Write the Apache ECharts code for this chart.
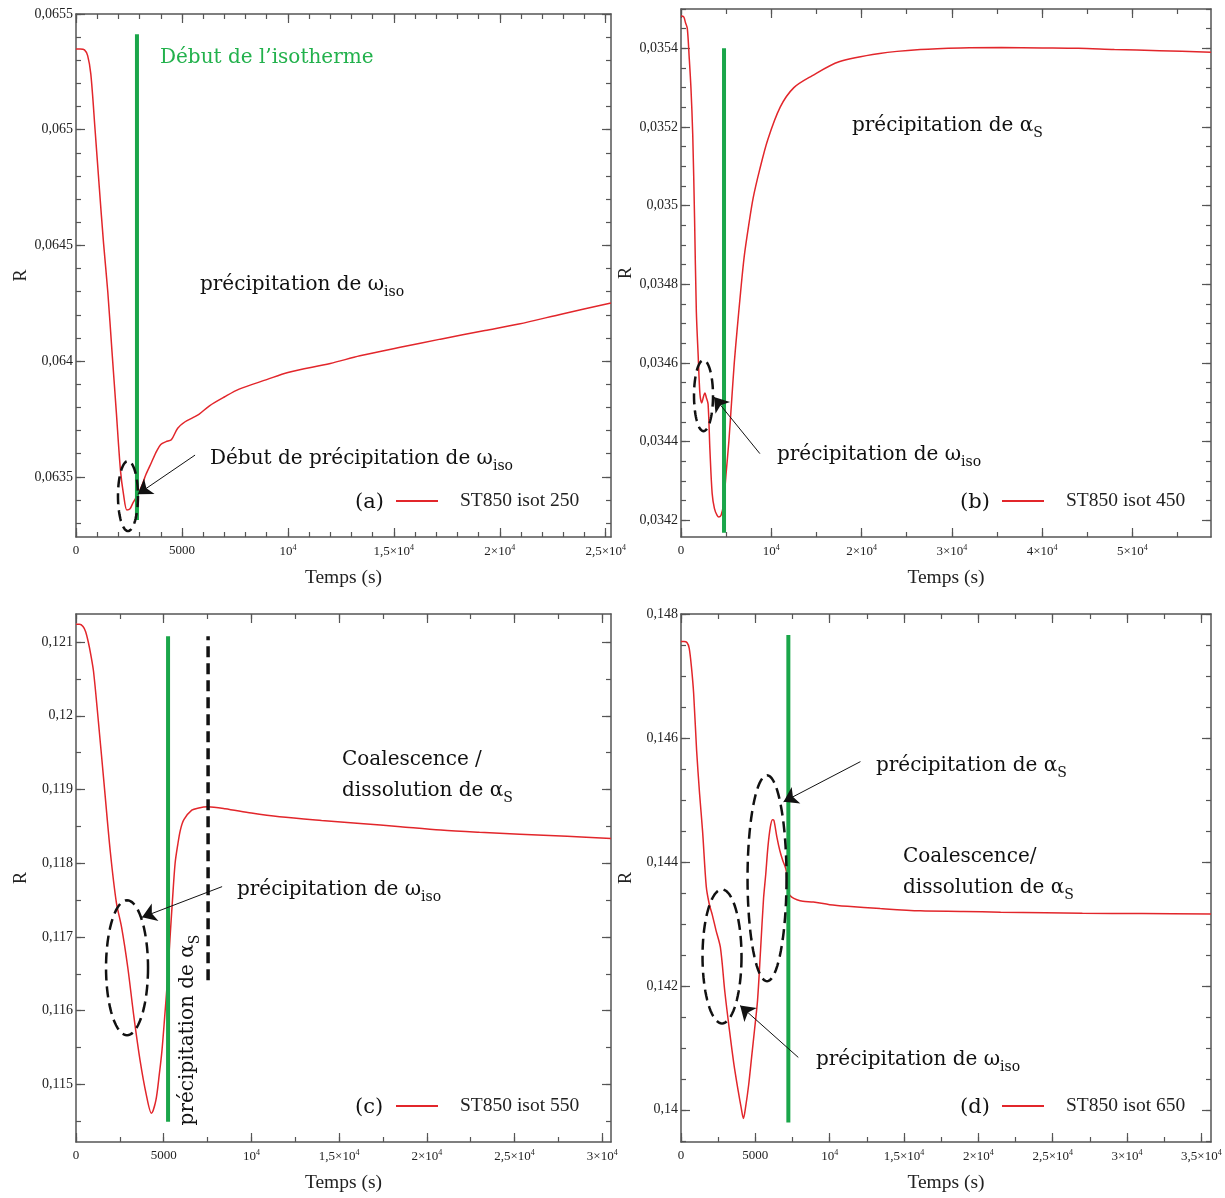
<!DOCTYPE html>
<html><head><meta charset="utf-8">
<script src="https://cdn.jsdelivr.net/npm/echarts@6/dist/echarts.min.js"></script>
<style>html,body{margin:0;padding:0;background:#fff}#c{width:1225px;height:1198px}</style>
</head><body><div id="c"></div><script>
// ---------- DATA ----------
const seriesNames = ['ST850 isot 250', 'ST850 isot 450', 'ST850 isot 550', 'ST850 isot 650'];
const panelTags = ['(a)', '(b)', '(c)', '(d)'];

const tA = [0, 200, 400, 550, 700, 900, 1100, 1300, 1500, 1700, 1900, 2100, 2250, 2400, 2550, 2700, 2900, 3100, 3300, 3550, 3800, 4000, 4250, 4500, 4800, 5150, 5500, 5800, 6300, 7000, 7700, 9000, 10000, 12000, 13400, 15300, 17200, 19300, 20900, 23000, 25250];
const vA = [0.065349, 0.065349, 0.065345, 0.06532, 0.06524, 0.065, 0.06475, 0.06451, 0.0643, 0.06404, 0.063784, 0.063527, 0.06342, 0.063357, 0.063362, 0.06339, 0.06342, 0.06346, 0.06351, 0.06356, 0.06361, 0.06364, 0.063652, 0.06366, 0.06371, 0.063738, 0.063755, 0.06377, 0.063807, 0.063845, 0.063879, 0.06392, 0.063951, 0.06399, 0.064023, 0.06406, 0.064095, 0.064132, 0.06416, 0.064205, 0.064251];

const tB = [0, 300, 500, 700, 900, 1100, 1300, 1500, 1700, 1900, 2100, 2300, 2500, 2650, 2800, 3000, 3200, 3450, 3700, 4000, 4200, 4450, 4700, 5000, 5300, 5600, 5900, 6200, 6600, 7000, 7500, 8000, 8700, 9600, 11000, 12500, 14500, 17500, 22000, 26500, 31000, 35500, 40000, 44000, 48000, 53000, 58700];
const vB = [0.035482, 0.03548, 0.035465, 0.03545, 0.03538, 0.0353, 0.03518, 0.03497, 0.03473, 0.03462, 0.03452, 0.034498, 0.034515, 0.034523, 0.034512, 0.034495, 0.03438, 0.034268, 0.03423, 0.034212, 0.034208, 0.034213, 0.03424, 0.03432, 0.0344, 0.0345, 0.0346, 0.03468, 0.03478, 0.03487, 0.03495, 0.03502, 0.03509, 0.035167, 0.035251, 0.0353, 0.03533, 0.035366, 0.035387, 0.035397, 0.035401, 0.035402, 0.035401, 0.0354, 0.035397, 0.035394, 0.03539];

const tC = [0, 200, 400, 550, 700, 850, 1000, 1250, 1600, 1950, 2300, 2600, 2950, 3300, 3650, 4000, 4300, 4550, 4750, 4900, 5050, 5200, 5350, 5500, 5650, 5800, 5950, 6150, 6600, 7000, 7500, 8500, 10000, 11600, 14000, 16200, 18500, 20800, 23000, 25300, 28000, 30500];
const vC = [0.12124, 0.12124, 0.12121, 0.12114, 0.121, 0.12082, 0.1206, 0.11999, 0.11908, 0.11817, 0.11747, 0.11713, 0.11659, 0.11592, 0.11533, 0.11487, 0.11461, 0.11478, 0.11514, 0.11546, 0.1159, 0.11637, 0.11695, 0.1175, 0.118, 0.11825, 0.11845, 0.11859, 0.11872, 0.11875, 0.118765, 0.11874, 0.11868, 0.11863, 0.11858, 0.11854, 0.118495, 0.11845, 0.11842, 0.118394, 0.118365, 0.118336];

const tD = [0, 200, 400, 550, 700, 850, 1050, 1250, 1450, 1700, 1900, 2100, 2350, 2650, 2950, 3250, 3550, 3850, 4050, 4200, 4350, 4550, 4750, 4950, 5150, 5350, 5550, 5700, 5850, 6000, 6150, 6250, 6450, 6650, 6850, 7050, 7150, 7250, 7450, 7800, 8200, 8900, 10000, 11200, 13400, 16100, 19000, 21500, 24500, 27000, 31000, 35650];
const vD = [0.147558, 0.147558, 0.14754, 0.14745, 0.14715, 0.14672, 0.1458, 0.1451, 0.1445, 0.1436, 0.14332, 0.14315, 0.1429, 0.14262, 0.1419, 0.1413, 0.14075, 0.1403, 0.14003, 0.13986, 0.14005, 0.1404, 0.14085, 0.1413, 0.14177, 0.14257, 0.1434, 0.1438, 0.14425, 0.14455, 0.14468, 0.14467, 0.1444, 0.14418, 0.14402, 0.14389, 0.14375, 0.14349, 0.14343, 0.14339, 0.143365, 0.143353, 0.14331, 0.143283, 0.143246, 0.14321, 0.1432, 0.143188, 0.14318, 0.143172, 0.143166, 0.143161];

// tick labels
const xTicksA = [0, 5000, 10000, 15000, 20000, 25000];
const xTicksB = [0, 10000, 20000, 30000, 40000, 50000];
const xTicksC = [0, 5000, 10000, 15000, 20000, 25000, 30000];
const xTicksD = [0, 5000, 10000, 15000, 20000, 25000, 30000, 35000];
const yTicksA = [0.0635, 0.064, 0.0645, 0.065, 0.0655];
const yTicksB = [0.0342, 0.0344, 0.0346, 0.0348, 0.035, 0.0352, 0.0354];
const yTicksC = [0.115, 0.116, 0.117, 0.118, 0.119, 0.12, 0.121];
const yTicksD = [0.14, 0.142, 0.144, 0.146, 0.148];

// vertical marker lines (time, from value, to value)
const greenT = [2877, 4765, 5248, 7221];
const greenFrom = [0.063313, 0.034168, 0.114493, 0.139795];
const greenTo = [0.065413, 0.0354, 0.121077, 0.14766];
const dashT = 7530, dashFrom = 0.116413, dashTo = 0.121077; // panel (c)

// annotation arrows [fromT, fromV, toT, toV]
const arrowsA = [[5619, 0.063594, 2914, 0.063425]];
const arrowsB = [[8739, 0.034369, 3650, 0.034513]];
const arrowsC = [[8329, 0.117683, 3765, 0.117267]];
const arrowsD = [[12070, 0.145618, 6900, 0.144971], [7889, 0.140845, 3978, 0.141681]];

// ellipse centres [t, v]
const ellA = [[2453, 0.063417]];
const ellB = [[2493, 0.0345165]];
const ellC = [[2909, 0.116583]];
const ellD = [[2759, 0.142474], [5787, 0.143736]];

// ---------- LAYOUT / STYLE ----------
const FONT_AX = 'Liberation Serif';
const FONT_ANN = 'DejaVu Serif';
const AXC = '#555';
const RED = '#e2262b';
const GREEN = '#1aa64a';
const GREEN_TXT = '#22b14c';

const ellSize = [[[10, 35]], [[9.5, 35.5]], [[21, 67.5]], [[19.5, 67], [19.5, 103]]];

const panels = [
  {t: tA, v: vA, xt: xTicksA, yt: yTicksA, arrows: arrowsA, ell: ellA,
   grid: {left: 76, top: 14, width: 535, height: 523}, xMax: 25250, xMinor: 1000, yMin: 0.06324, yMax: 0.0655, yMinor: 0.0001,
   legend: {left: 396, top: 491}, tag: {x: 355, y: 503}},
  {t: tB, v: vB, xt: xTicksB, yt: yTicksB, arrows: arrowsB, ell: ellB,
   grid: {left: 681, top: 9, width: 530, height: 528}, xMax: 58700, xMinor: 5000, yMin: 0.034157, yMax: 0.0355, yMinor: 0.00005,
   legend: {left: 1002, top: 491}, tag: {x: 960, y: 503}},
  {t: tC, v: vC, xt: xTicksC, yt: yTicksC, arrows: arrowsC, ell: ellC,
   grid: {left: 76, top: 614, width: 535, height: 528}, xMax: 30500, xMinor: 2500, yMin: 0.11422, yMax: 0.12138, yMinor: 0.0005,
   legend: {left: 396, top: 1096}, tag: {x: 355, y: 1108}},
  {t: tD, v: vD, xt: xTicksD, yt: yTicksD, arrows: arrowsD, ell: ellD,
   grid: {left: 681, top: 614, width: 530, height: 528}, xMax: 35650, xMinor: 2500, yMin: 0.13948, yMax: 0.148, yMinor: 0.0005,
   legend: {left: 1002, top: 1096}, tag: {x: 960, y: 1108}}
];

function ticksBetween(min, max, step) {
  const out = [];
  const s = Math.ceil(min / step - 1e-6);
  for (let k = s; k * step <= max + step * 1e-6; k++) out.push(+(k * step).toFixed(8));
  return out;
}
function fmtY(v) { return String(parseFloat(v.toFixed(6))).replace('.', ','); }
function fmtX(v) {
  if (v === 0) return '0';
  if (v === 5000) return '5000';
  const k = v / 10000;
  if (k === 1) return '{n|10}{e|4}';
  return '{n|' + String(k).replace('.', ',') + '×10}{e|4}';
}
const labRich = {
  n: {fontFamily: FONT_AX, fontSize: 13, color: '#222', lineHeight: 16},
  e: {fontFamily: FONT_AX, fontSize: 8, color: '#222', lineHeight: 10, verticalAlign: 'top'}
};

const grids = [], xAxes = [], yAxes = [], series = [], legends = [];
panels.forEach((p, i) => {
  grids.push(Object.assign({outerBoundsMode: 'none', containLabel: false}, p.grid));
  const xMinor = ticksBetween(0, p.xMax, p.xMinor);
  const yMinor = ticksBetween(p.yMin, p.yMax, p.yMinor);
  const xc = {gridIndex: i, type: 'value', min: 0, max: p.xMax, splitLine: {show: false}};
  const yc = {gridIndex: i, type: 'value', min: p.yMin, max: p.yMax, splitLine: {show: false}};
  const line = {show: true, onZero: false, lineStyle: {color: AXC, width: 1.5}};
  const noLine = {show: false, onZero: false};
  const tk = (vals, len) => ({show: true, inside: true, length: len, customValues: vals, lineStyle: {color: AXC, width: 1.2}});
  xAxes.push(
    Object.assign({}, xc, {position: 'bottom', axisLine: line, axisTick: tk(p.xt, 9),
      axisLabel: {show: true, customValues: p.xt, formatter: fmtX, margin: 7, color: '#222', fontFamily: FONT_AX, fontSize: 13, rich: labRich},
      name: 'Temps (s)', nameLocation: 'middle', nameGap: 31,
      nameTextStyle: {fontFamily: FONT_AX, fontSize: 19.5, color: '#222'}}),
    Object.assign({}, xc, {position: 'bottom', axisLine: noLine, axisTick: tk(xMinor, 5), axisLabel: {show: false}}),
    Object.assign({}, xc, {position: 'top', axisLine: line, axisTick: tk(p.xt, 9), axisLabel: {show: false}}),
    Object.assign({}, xc, {position: 'top', axisLine: noLine, axisTick: tk(xMinor, 5), axisLabel: {show: false}})
  );
  yAxes.push(
    Object.assign({}, yc, {position: 'left', axisLine: line, axisTick: tk(p.yt, 9),
      axisLabel: {show: true, customValues: p.yt, formatter: fmtY, margin: 3, color: '#222', fontFamily: FONT_AX, fontSize: 14},
      name: 'R', nameLocation: 'middle', nameGap: 46,
      nameTextStyle: {fontFamily: FONT_AX, fontSize: 18, color: '#222'}}),
    Object.assign({}, yc, {position: 'left', axisLine: noLine, axisTick: tk(yMinor, 5), axisLabel: {show: false}}),
    Object.assign({}, yc, {position: 'right', axisLine: line, axisTick: tk(p.yt, 9), axisLabel: {show: false}}),
    Object.assign({}, yc, {position: 'right', axisLine: noLine, axisTick: tk(yMinor, 5), axisLabel: {show: false}})
  );
  const ax = {xAxisIndex: i * 4, yAxisIndex: i * 4};
  series.push(Object.assign({
    name: seriesNames[i], type: 'line', data: p.t.map((t, k) => [t, p.v[k]]),
    showSymbol: false, symbol: 'none', smooth: 0.3, color: RED,
    lineStyle: {color: RED, width: 1.5}, z: 3, silent: true,
    markLine: {silent: true, symbol: ['none', 'arrow'], symbolSize: 14, animation: false,
      label: {show: false}, lineStyle: {color: '#111', width: 1, type: 'solid'},
      data: p.arrows.map(a => [{coord: [a[0], a[1]]}, {coord: [a[2], a[3]]}])}
  }, ax));
  series.push(Object.assign({
    name: 'isotherme ' + i, type: 'line', data: [[greenT[i], greenFrom[i]], [greenT[i], greenTo[i]]],
    symbol: 'none', lineStyle: {color: GREEN, width: 4}, z: 4, silent: true
  }, ax));
  if (i === 2) {
    series.push(Object.assign({
      name: 'fin', type: 'line', data: [[dashT, dashFrom], [dashT, dashTo]],
      symbol: 'none', lineStyle: {color: '#111', width: 3.5, type: [11, 6]}, z: 4, silent: true
    }, ax));
  }
  const sizes = ellSize[i];
  series.push(Object.assign({
    name: 'ellipse ' + i, type: 'custom', data: p.ell, clip: false, silent: true, z: 5,
    renderItem: function (params, api) {
      const c = api.coord([api.value(0), api.value(1)]);
      const s = sizes[params.dataIndex];
      const pts = [];
      for (let k = 0; k <= 80; k++) {
        const a = k / 80 * 2 * Math.PI;
        pts.push([c[0] + s[0] * Math.cos(a), c[1] + s[1] * Math.sin(a)]);
      }
      return {type: 'polyline', shape: {points: pts}, style: {stroke: '#111', lineWidth: 2.5, lineDash: [11, 6], fill: null}};
    }
  }, ax));
  legends.push({
    data: [seriesNames[i]], left: p.legend.left, top: p.legend.top, orient: 'horizontal',
    icon: 'rect', itemWidth: 42, itemHeight: 2, padding: 0, selectedMode: false,
    textStyle: {fontFamily: FONT_AX, fontSize: 19.5, color: '#222', padding: [0, 0, 0, 17]}
  });
});

// ---------- TEXT ANNOTATIONS ----------
const annRich = (fill) => ({
  m: {fontFamily: FONT_ANN, fontSize: 20, lineHeight: 28, fill: fill},
  s: {fontFamily: FONT_ANN, fontSize: 14, lineHeight: 12, verticalAlign: 'bottom', fill: fill}
});
function txt(x, y, text, fill, extra) {
  return Object.assign({type: 'text', x: x, y: y, z: 100, silent: true,
    style: {text: text, rich: annRich(fill || '#111'), align: 'left', verticalAlign: 'middle'}}, extra || {});
}
const graphics = [
  txt(160, 58, '{m|Début de l’isotherme}', GREEN_TXT),
  txt(200, 285, '{m|précipitation de ω}{s|iso}'),
  txt(210, 459, '{m|Début de précipitation de ω}{s|iso}'),
  txt(852, 126, '{m|précipitation de α}{s|S}'),
  txt(777, 455, '{m|précipitation de ω}{s|iso}'),
  txt(342, 760, '{m|Coalescence /}'),
  txt(342, 791, '{m|dissolution de α}{s|S}'),
  txt(237, 890, '{m|précipitation de ω}{s|iso}'),
  {type: 'text', x: 188, y: 1030, rotation: Math.PI / 2, z: 100, silent: true,
   style: {text: '{m|précipitation de α}{s|S}', rich: annRich('#111'), align: 'center', verticalAlign: 'middle'}},
  txt(876, 766, '{m|précipitation de α}{s|S}'),
  txt(903, 857, '{m|Coalescence/}'),
  txt(903, 888, '{m|dissolution de α}{s|S}'),
  txt(816, 1060, '{m|précipitation de ω}{s|iso}')
];
panels.forEach((p, i) => {
  graphics.push({type: 'text', x: p.tag.x, y: p.tag.y, z: 100, silent: true,
    style: {text: panelTags[i], fontFamily: FONT_ANN, fontSize: 21, fill: '#111', align: 'left', verticalAlign: 'middle'}});
});

const chart = echarts.init(document.getElementById('c'), null, {renderer: 'canvas'});
chart.setOption({
  animation: false,
  backgroundColor: '#fff',
  grid: grids, xAxis: xAxes, yAxis: yAxes, series: series, legend: legends,
  graphic: graphics
});
</script></body></html>
